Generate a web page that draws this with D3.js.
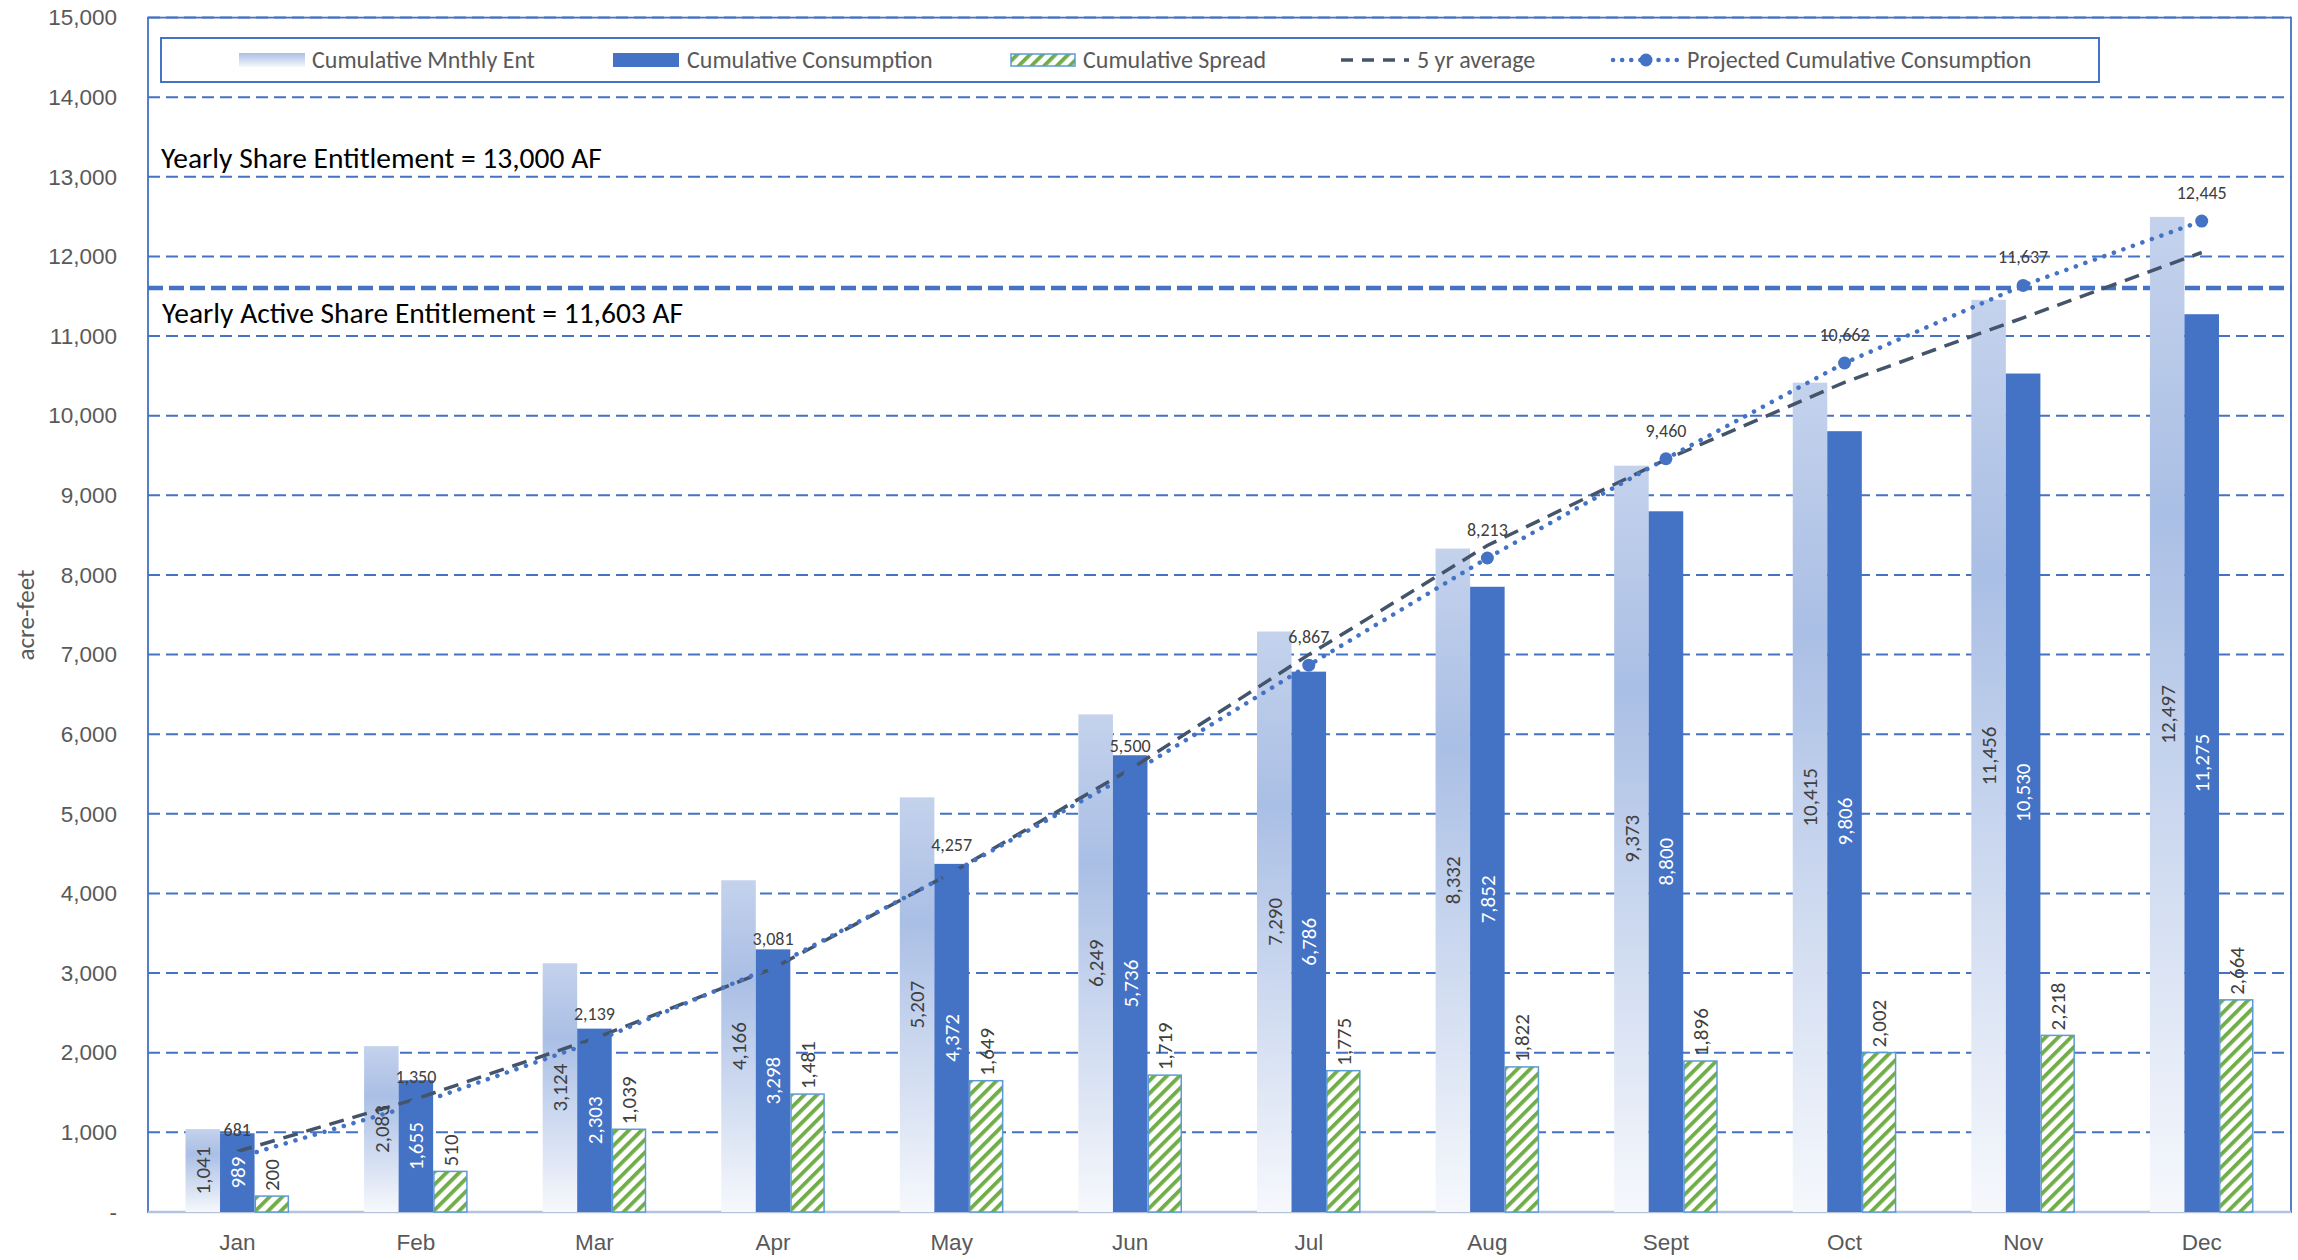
<!DOCTYPE html>
<html>
<head>
<meta charset="utf-8">
<script src="https://cdn.jsdelivr.net/npm/d3@7"></script>
<style>
  html, body { margin: 0; padding: 0; background: #fff; }
  svg { display: block; font-family: Carlito, Calibri, Lato, "Open Sans", sans-serif; }
</style>
</head>
<body>
<svg id="chart" width="2298" height="1260"></svg>
<script>
// ---------------- data ----------------
const months = ["Jan","Feb","Mar","Apr","May","Jun","Jul","Aug","Sept","Oct","Nov","Dec"];
const monthlyEntitlement = [1041,2083,3124,4166,5207,6249,7290,8332,9373,10415,11456,12497];
const consumption = [989,1655,2303,3298,4372,5736,6786,7852,8800,9806,10530,11275];
const spread = [200,510,1039,1481,1649,1719,1775,1822,1896,2002,2218,2664];
const fiveYrAverage = [760,1420,2180,3060,4260,5560,7000,8370,9450,10420,11230,12050];
const projected = [681,1350,2139,3081,4257,5500,6867,8213,9460,10662,11637,12445];
const yTicks = [0,1000,2000,3000,4000,5000,6000,7000,8000,9000,10000,11000,12000,13000,14000,15000];
const activeEntitlement = 11603;
const seriesNames = ["Cumulative Mnthly Ent","Cumulative Consumption","Cumulative Spread","5 yr average","Projected Cumulative Consumption"];
const notes = ["Yearly Share Entitlement = 13,000 AF","Yearly Active Share Entitlement = 11,603 AF"];
const yTitle = "acre-feet";

// ---------------- layout ----------------
const svg = d3.select("#chart");
const L = 148, R = 2291, T = 17.6, B = 1212;
const blue = "#4472C4", green = "#70AD47", gray = "#595959", dark = "#44546A";

const x = d3.scaleBand().domain(months).range([L, R]).paddingInner(0.42).paddingOuter(0.21);
const xs = d3.scaleBand().domain([0,1,2]).range([0, x.bandwidth()]);
const y = d3.scaleLinear().domain([0, 15000]).range([B, T]);
const cx = m => x(m) + x.bandwidth() / 2;
const fmt = d3.format(",");

// defs
const defs = svg.append("defs");
const g1 = defs.append("linearGradient").attr("id","entGrad").attr("x1",0).attr("y1",0).attr("x2",0).attr("y2",1);
g1.append("stop").attr("offset","0%").attr("stop-color","#C4D2EC");
g1.append("stop").attr("offset","30%").attr("stop-color","#AABFE5");
g1.append("stop").attr("offset","100%").attr("stop-color","#F6F8FC");
const g2 = defs.append("linearGradient").attr("id","entGradLeg").attr("x1",0).attr("y1",0).attr("x2",0).attr("y2",1);
g2.append("stop").attr("offset","0%").attr("stop-color","#AABFE5");
g2.append("stop").attr("offset","100%").attr("stop-color","#F6F8FC");
const pat = defs.append("pattern").attr("id","stripes").attr("patternUnits","userSpaceOnUse")
  .attr("width",9).attr("height",9).attr("patternTransform","rotate(45)");
pat.append("rect").attr("width",9).attr("height",9).attr("fill","#fff");
pat.append("rect").attr("x",0).attr("y",0).attr("width",3.8).attr("height",9).attr("fill",green);

// gridlines
svg.append("g").selectAll("line").data(yTicks.filter(d => d > 0)).join("line")
  .attr("x1", L).attr("x2", R).attr("y1", d => y(d)).attr("y2", d => y(d))
  .attr("stroke", blue).attr("stroke-width", 2).attr("stroke-dasharray","12 6");

// plot border
svg.append("rect").attr("x", L).attr("y", T).attr("width", R - L).attr("height", B - T)
  .attr("fill","none").attr("stroke", blue).attr("stroke-width", 1.8);
svg.append("line").attr("x1", L).attr("x2", R).attr("y1", B).attr("y2", B)
  .attr("stroke","#B4C3DE").attr("stroke-width", 2.5);

// active entitlement line
svg.append("line").attr("x1", L).attr("x2", R).attr("y1", y(activeEntitlement)).attr("y2", y(activeEntitlement))
  .attr("stroke", blue).attr("stroke-width", 4.5).attr("stroke-dasharray","15 6");

// y axis
const yAxis = d3.axisLeft(y).tickValues(yTicks).tickSize(0).tickPadding(0)
  .tickFormat(d => d === 0 ? "-" : fmt(d));
const ya = svg.append("g").attr("transform", `translate(${L - 31},0)`).call(yAxis);
ya.select(".domain").remove();
ya.selectAll("text").attr("fill", gray).attr("font-size", 22.5).attr("font-family", null);

// x axis
const xAxis = d3.axisBottom(x).tickSize(0).tickPadding(0);
const xa = svg.append("g").attr("transform", `translate(0,${B + 22})`).call(xAxis);
xa.select(".domain").remove();
xa.selectAll("text").attr("fill", gray).attr("font-size", 22.5).attr("font-family", null);

// y title
svg.append("text").attr("transform","translate(34,615) rotate(-90)").attr("text-anchor","middle")
  .attr("fill", gray).attr("font-size", 25).text(yTitle);

// bars
const bars = svg.append("g");
bars.selectAll(".ent").data(months).join("rect")
  .attr("x", (m) => x(m) + xs(0)).attr("width", xs.bandwidth())
  .attr("y", (m,i) => y(monthlyEntitlement[i])).attr("height", (m,i) => B - y(monthlyEntitlement[i]))
  .attr("fill","url(#entGrad)");
bars.selectAll(".con").data(months).join("rect")
  .attr("x", (m) => x(m) + xs(1)).attr("width", xs.bandwidth())
  .attr("y", (m,i) => y(consumption[i])).attr("height", (m,i) => B - y(consumption[i]))
  .attr("fill", blue);
bars.selectAll(".spr").data(months).join("rect")
  .attr("x", (m) => x(m) + xs(2) + 0.75).attr("width", xs.bandwidth() - 1.5)
  .attr("y", (m,i) => y(spread[i])).attr("height", (m,i) => B - y(spread[i]))
  .attr("fill","url(#stripes)").attr("stroke","#5B9BD5").attr("stroke-width",1.5);

// lines
const line = d3.line().x(d => cx(d[0])).y(d => y(d[1]));
svg.append("path").datum(months.map((m,i) => [m, fiveYrAverage[i]]))
  .attr("d", line).attr("fill","none").attr("stroke", dark).attr("stroke-width", 3.5)
  .attr("stroke-dasharray","15 9");
svg.append("path").datum(months.map((m,i) => [m, projected[i]]))
  .attr("d", line).attr("fill","none").attr("stroke", blue).attr("stroke-width", 4.5)
  .attr("stroke-linecap","round").attr("stroke-dasharray","0.1 10");
svg.append("g").selectAll("circle").data(months).join("circle")
  .attr("cx", m => cx(m)).attr("cy", (m,i) => y(projected[i])).attr("r", 6.5).attr("fill", blue);

// bar labels
const lab = svg.append("g").attr("font-size", 21);
lab.selectAll(".le").data(months).join("text")
  .attr("transform", (m,i) => `translate(${x(m) + xs(0) + xs.bandwidth()/2},${(B + y(monthlyEntitlement[i]))/2}) rotate(-90)`)
  .attr("text-anchor","middle").attr("dy","0.35em").attr("fill","#404040")
  .text((m,i) => fmt(monthlyEntitlement[i]));
lab.selectAll(".lc").data(months).join("text")
  .attr("transform", (m,i) => `translate(${x(m) + xs(1) + xs.bandwidth()/2},${(B + y(consumption[i]))/2}) rotate(-90)`)
  .attr("text-anchor","middle").attr("dy","0.35em").attr("fill","#fff")
  .text((m,i) => fmt(consumption[i]));
lab.selectAll(".ls").data(months).join("text")
  .attr("transform", (m,i) => `translate(${x(m) + xs(2) + xs.bandwidth()/2},${y(spread[i]) - 5}) rotate(-90)`)
  .attr("text-anchor","start").attr("dy","0.35em").attr("fill","#404040")
  .text((m,i) => fmt(spread[i]));
svg.append("g").attr("font-size", 18).selectAll("text").data(months).join("text")
  .attr("x", m => cx(m)).attr("y", (m,i) => y(projected[i]) - 22)
  .attr("text-anchor","middle").attr("fill","#404040")
  .text((m,i) => fmt(projected[i]));

// notes
svg.append("text").attr("x", 161).attr("y", 168).attr("font-size", 29.5).attr("fill","#000").text(notes[0]);
svg.append("text").attr("x", 162).attr("y", 323).attr("font-size", 29.5).attr("fill","#000").text(notes[1]);

// legend
const lg = svg.append("g");
lg.append("rect").attr("x",161).attr("y",38).attr("width",1938).attr("height",44)
  .attr("fill","#fff").attr("stroke", blue).attr("stroke-width",2);
const lx = [239, 613, 1010, 1341, 1611];
const ly = 60;
lg.append("rect").attr("x",lx[0]).attr("y",ly-7).attr("width",66).attr("height",14).attr("fill","url(#entGradLeg)");
lg.append("rect").attr("x",lx[1]).attr("y",ly-7).attr("width",66).attr("height",14).attr("fill",blue);
lg.append("rect").attr("x",lx[2]+1).attr("y",ly-6).attr("width",64).attr("height",12)
  .attr("fill","url(#stripes)").attr("stroke","#5B9BD5").attr("stroke-width",1.5);
lg.append("line").attr("x1",lx[3]).attr("x2",lx[3]+68).attr("y1",ly).attr("y2",ly)
  .attr("stroke",dark).attr("stroke-width",3.5).attr("stroke-dasharray","12 9");
lg.append("line").attr("x1",lx[4]+2).attr("x2",lx[4]+68).attr("y1",ly).attr("y2",ly)
  .attr("stroke",blue).attr("stroke-width",4.5).attr("stroke-linecap","round").attr("stroke-dasharray","0.1 9");
lg.append("circle").attr("cx",lx[4]+35).attr("cy",ly).attr("r",6.5).attr("fill",blue);
const tx = [312, 687, 1083, 1417, 1687];
lg.selectAll(".lt").data(seriesNames).join("text")
  .attr("x",(d,i) => tx[i]).attr("y", ly).attr("dy","0.35em")
  .attr("font-size",24).attr("fill",gray).text(d => d);
</script>
</body>
</html>
